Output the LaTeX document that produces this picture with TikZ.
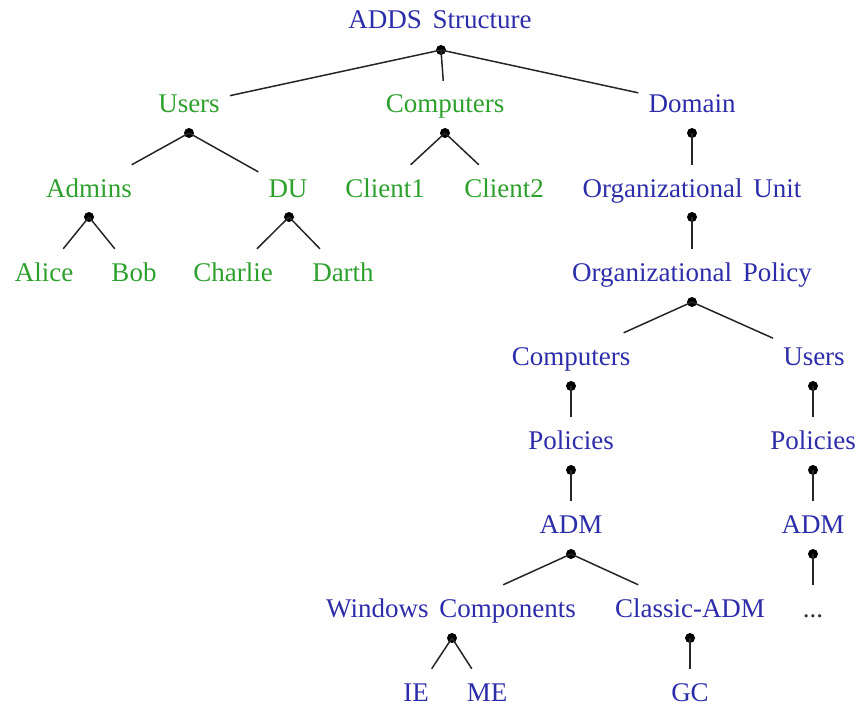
\documentclass[tikz,border=0pt]{standalone}
\usepackage{fontspec}
\setmainfont[WordSpace=1.6]{Liberation Serif}
\definecolor{tblue}{RGB}{45,45,170}
\definecolor{tgreen}{RGB}{45,160,45}
\begin{document}
\begin{tikzpicture}[x=1pt,y=-1pt,
  lbl/.style={font=\fontsize{27}{32}\selectfont, anchor=base, text height=20pt, text depth=3pt, inner xsep=10pt, inner ysep=12pt, yshift=-2pt},
  bl/.style={lbl,text=tblue},
  gr/.style={lbl,text=tgreen},
  bk/.style={lbl,text=black!80},
  edge/.style={line width=1.5pt, black!85},
  knot/.style={circle, fill=black, inner sep=0pt, minimum size=10pt}]
\useasboundingbox (0,0) rectangle (857,706);
% nodes
\node[bl] (root) at (440,27) {ADDS Structure};
\node[gr] (gusers) at (189,111) {Users};
\node[gr] (gcomp) at (445,111) {Computers};
\node[bl] (domain) at (692,111) {Domain};
\node[gr] (admins) at (89,195) {Admins};
\node[gr] (du) at (288,195) {DU};
\node[gr] (client1) at (385,195) {Client1};
\node[gr] (client2) at (504,195) {Client2};
\node[bl] (ou) at (692,195) {Organizational Unit};
\node[gr] (alice) at (44,279) {Alice};
\node[gr] (bob) at (134,279) {Bob};
\node[gr] (charlie) at (233,279) {Charlie};
\node[gr] (darth) at (343,279) {Darth};
\node[bl] (op) at (692,279) {Organizational Policy};
\node[bl] (bcomp) at (571,363) {Computers};
\node[bl] (busers) at (814,363) {Users};
\node[bl] (pol1) at (571,447) {Policies};
\node[bl] (pol2) at (813,447) {Policies};
\node[bl] (adm1) at (571,531) {ADM};
\node[bl] (adm2) at (813,531) {ADM};
\node[bl] (wc) at (451,615) {Windows Components};
\node[bl] (cadm) at (690,615) {Classic-ADM};
\node[bk] (more) at (813,615) {...};
\node[bl] (ie) at (416,699) {IE};
\node[bl] (me) at (487,699) {ME};
\node[bl] (gc) at (690,699) {GC};
% knots
\node[knot] (k0) at (441,50) {};
\node[knot] (k1) at (189,133) {};
\node[knot] (k2) at (445,133) {};
\node[knot] (k3) at (692,133) {};
\node[knot] (k4) at (89,217) {};
\node[knot] (k5) at (289,217) {};
\node[knot] (k6) at (692,217) {};
\node[knot] (k7) at (692,302) {};
\node[knot] (k8) at (571,386) {};
\node[knot] (k9) at (813,386) {};
\node[knot] (k10) at (571,470) {};
\node[knot] (k11) at (813,470) {};
\node[knot] (k12) at (571,554) {};
\node[knot] (k13) at (813,554) {};
\node[knot] (k14) at (452,638) {};
\node[knot] (k15) at (690,638) {};
% edges
\draw[edge] (k0.center) -- (gusers);
\draw[edge] (k0.center) -- (gcomp);
\draw[edge] (k0.center) -- (domain);
\draw[edge] (k1.center) -- (admins);
\draw[edge] (k1.center) -- (du);
\draw[edge] (k2.center) -- (client1);
\draw[edge] (k2.center) -- (client2);
\draw[edge] (k3.center) -- (ou);
\draw[edge] (k4.center) -- (alice);
\draw[edge] (k4.center) -- (bob);
\draw[edge] (k5.center) -- (charlie);
\draw[edge] (k5.center) -- (darth);
\draw[edge] (k6.center) -- (op);
\draw[edge] (k7.center) -- (bcomp);
\draw[edge] (k7.center) -- (busers);
\draw[edge] (k8.center) -- (pol1);
\draw[edge] (k9.center) -- (pol2);
\draw[edge] (k10.center) -- (adm1);
\draw[edge] (k11.center) -- (adm2);
\draw[edge] (k12.center) -- (wc);
\draw[edge] (k12.center) -- (cadm);
\draw[edge] (k13.center) -- (more);
\draw[edge] (k14.center) -- (ie);
\draw[edge] (k14.center) -- (me);
\draw[edge] (k15.center) -- (gc);
\end{tikzpicture}
\end{document}
